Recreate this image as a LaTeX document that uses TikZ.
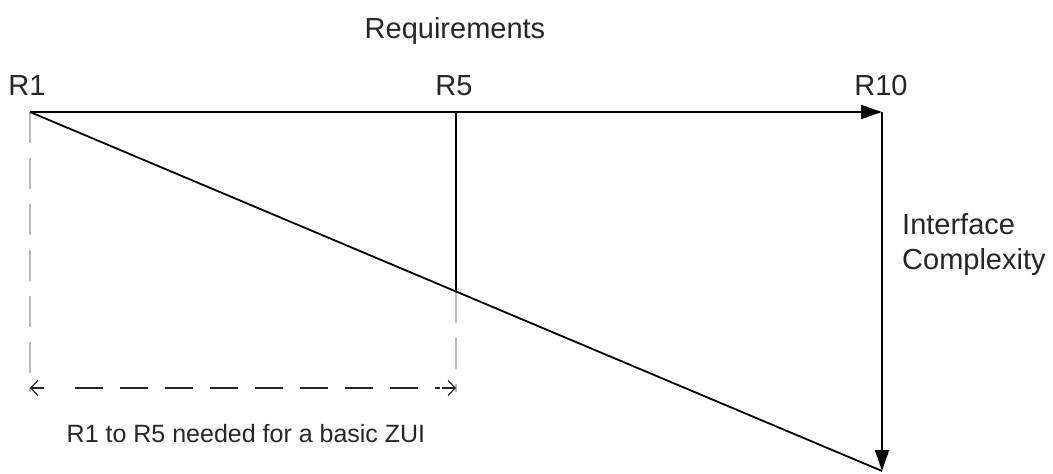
\documentclass[tikz,border=0pt]{standalone}
\usepackage{fontspec}
\setmainfont{Liberation Sans}
\usetikzlibrary{arrows.meta,calc}
\begin{document}
\begin{tikzpicture}[x=1pt,y=1pt,
  mainline/.style={line width=1.8pt, black},
  bigarrow/.style={mainline, -{Triangle[length=21pt,width=14pt]}},
  guide/.style={line width=1.5pt, black!28, dash pattern=on 31pt off 15pt},
  span/.style={line width=1.2pt, black!85, dash pattern=on 28pt off 17pt},
  spantip/.style={line width=1.2pt, black!85, {Straight Barb[length=7pt,width=15pt]}-},
  lbl/.style={font=\fontsize{29}{35}\selectfont, text=black!85, inner sep=0pt, anchor=base},
  small/.style={font=\fontsize{25}{28}\selectfont, text=black!85, inner sep=0pt, anchor=base}]
\useasboundingbox (0,0) rectangle (1053,-474);
\fill[white] (0,0) rectangle (1053,-474);

\coordinate (r1) at (30,-112);
\coordinate (r5) at (456,-112);
\coordinate (r10) at (882,-112);
\coordinate (bot) at (882,-471);
\coordinate (mid) at ($(r1)!0.5!(bot)$);
\coordinate (g1) at (30,-392);
\coordinate (g5) at (456,-392);
\coordinate (a1) at (30,-388);
\coordinate (a5) at (456,-388);
\coordinate (d1) at (75,-388);
\coordinate (d5) at (440,-388);

\draw[guide] (r1) -- (g1);
\draw[guide] (mid) -- (g5);
\draw[spantip] (a1) -- ++(14,0);
\draw[spantip] (a5) -- ++(-14,0);
\draw[span] (d1) -- (d5);

\draw[mainline] (r1) -- (bot);
\draw[mainline] (r5) -- (mid);
\draw[bigarrow] (r1) -- (r10);
\draw[bigarrow] (r10) -- (bot);

\node[lbl] (treq) at (455,-38) {Requirements};
\node[lbl] (tr1) at (27,-95) {R1};
\node[lbl] (tr5) at (454,-95) {R5};
\node[lbl] (tr10) at (881,-95) {R10};
\node[lbl, anchor=base west, align=left] (tic) at (902,-269) {Interface\\Complexity};
\node[small] (tnote) at (246,-442) {R1 to R5 needed for a basic ZUI};
\end{tikzpicture}
\end{document}
